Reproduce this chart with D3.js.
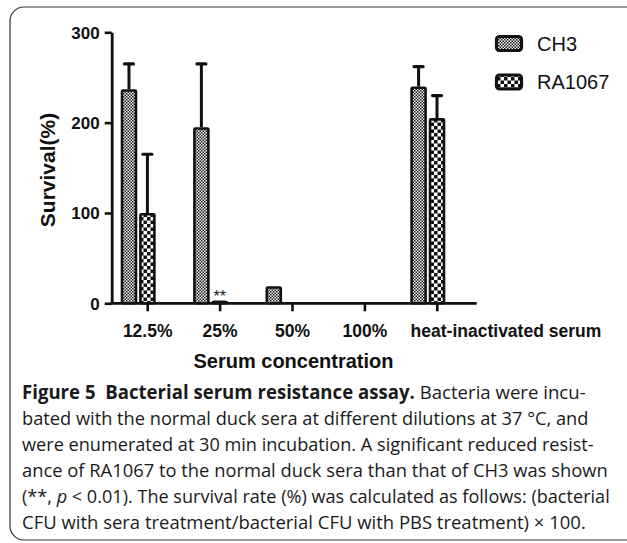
<!DOCTYPE html>
<html>
<head>
<meta charset="utf-8">
<script src="https://cdn.jsdelivr.net/npm/d3@7"></script>
<style>
  html, body { margin: 0; padding: 0; background: #fff; }
  svg { display: block; }
</style>
</head>
<body>
<div id="chart"></div>
<script>
// ---------- data ----------
const categories = ["12.5%", "25%", "50%", "100%", "heat-inactivated serum"];
const seriesNames = ["CH3", "RA1067"];
const ch3Values = [237, 195, 19, 0, 240];
const ch3Errors = [28, 70, 0, 0, 22];
const ra1067Values = [100, 2, 0, 0, 205];
const ra1067Errors = [65, 0, 0, 0, 25];
const yTicks = [0, 100, 200, 300];
const yDomain = [0, 300];
const significance = [{ category: "25%", series: "RA1067", label: "**" }];
const yLabel = "Survival(%)";
const xLabel = "Serum concentration";
const captionLines = [
  [["Figure 5  Bacterial serum resistance assay.", true], [" Bacteria were incu-", false]],
  [["bated with the normal duck sera at different dilutions at 37 \u00B0C, and", false]],
  [["were enumerated at 30 min incubation. A significant reduced resist-", false]],
  [["ance of RA1067 to the normal duck sera than that of CH3 was shown", false]],
  [["(**, ", false], ["p", false, true], [" < 0.01). The survival rate (%) was calculated as follows: (bacterial", false]],
  [["CFU with sera treatment/bacterial CFU with PBS treatment) \u00D7 100.", false]]
];
const captionLineEnds = [586, 589, 594, 608, 610, 586];

// ---------- build ----------
const W = 627, H = 543;
const svg = d3.select("#chart").append("svg").attr("width", W).attr("height", H);
svg.append("rect").attr("width", W).attr("height", H).attr("fill", "#fff");

const defs = svg.append("defs");
function checker(id, cell) {
  const p = defs.append("pattern").attr("id", id).attr("patternUnits", "userSpaceOnUse")
    .attr("width", cell * 2).attr("height", cell * 2);
  p.append("rect").attr("width", cell * 2).attr("height", cell * 2).attr("fill", "#fff");
  p.append("rect").attr("width", cell).attr("height", cell).attr("fill", "#111");
  p.append("rect").attr("x", cell).attr("y", cell).attr("width", cell).attr("height", cell).attr("fill", "#111");
}
checker("patCH3", 1.5);
checker("patRA", 3.5);
const fills = { CH3: "url(#patCH3)", RA1067: "url(#patRA)" };

// frame
svg.append("rect").attr("x", 10).attr("y", 7).attr("width", 720).attr("height", 533)
  .attr("rx", 14).attr("fill", "none").attr("stroke", "#333").attr("stroke-width", 1.2);

const x0 = d3.scaleBand().domain(categories).range([111.5, 473.5]);
const x1 = d3.scaleBand().domain(seriesNames).range([-27, 8]).paddingInner(0.1);
const y = d3.scaleLinear().domain(yDomain).range([303.3, 32.3]);
const cx = c => x0(c) + x0.bandwidth() / 2;
const font = "Liberation Sans, Arial, sans-serif";

const data = [];
categories.forEach((c, i) => {
  data.push({ c, s: "CH3", v: ch3Values[i], e: ch3Errors[i] });
  data.push({ c, s: "RA1067", v: ra1067Values[i], e: ra1067Errors[i] });
});

// y axis
const yAxis = svg.append("g").attr("transform", "translate(111.7,0)")
  .call(d3.axisLeft(y).tickValues(yTicks).tickSize(7).tickSizeOuter(0).tickPadding(5));
yAxis.select(".domain").attr("stroke", "#111").attr("stroke-width", 2.8);
yAxis.selectAll(".tick line").attr("stroke", "#111").attr("stroke-width", 2.6);
yAxis.selectAll(".tick text").attr("font-family", font)
  .attr("font-size", 17).attr("font-weight", "bold").attr("fill", "#111").attr("dy", "0.34em");

// x axis
const xAxis = svg.append("g").attr("transform", "translate(0,303.3)")
  .call(d3.axisBottom(x0).tickSize(8).tickSizeOuter(0).tickPadding(13));
xAxis.select(".domain").remove();
xAxis.append("line").attr("x1", 110.3).attr("x2", 476.7).attr("y1", 0).attr("y2", 0)
  .attr("stroke", "#111").attr("stroke-width", 2.8);
xAxis.selectAll(".tick line").attr("stroke", "#111").attr("stroke-width", 2.6);
xAxis.selectAll(".tick text").attr("font-family", font)
  .attr("font-size", 17.5).attr("font-weight", "bold").attr("fill", "#111")
  .attr("dy", "0.71em")
  .each(function (c) {
    const w = this.getComputedTextLength();
    if (w > x0.bandwidth()) {
      d3.select(this).attr("text-anchor", "start").attr("x", x1("CH3") + 0.3);
    }
  });

const g = svg.append("g");
const sw = 2.6;

// error bars
const errs = data.filter(d => d.e > 0);
g.selectAll("line.err").data(errs).join("line").attr("class", "err")
  .attr("x1", d => cx(d.c) + x1(d.s) + x1.bandwidth() / 2)
  .attr("x2", d => cx(d.c) + x1(d.s) + x1.bandwidth() / 2)
  .attr("y1", d => y(d.v)).attr("y2", d => y(d.v + d.e))
  .attr("stroke", "#111").attr("stroke-width", 3);
g.selectAll("line.cap").data(errs).join("line").attr("class", "cap")
  .attr("x1", d => cx(d.c) + x1(d.s) + x1.bandwidth() / 2 - 4.5)
  .attr("x2", d => cx(d.c) + x1(d.s) + x1.bandwidth() / 2 + 4.5)
  .attr("y1", d => y(d.v + d.e)).attr("y2", d => y(d.v + d.e))
  .attr("stroke", "#111").attr("stroke-width", 3.2).attr("stroke-linecap", "round");

// bars
g.selectAll("rect.bar").data(data.filter(d => d.v > 0)).join("rect").attr("class", "bar")
  .attr("x", d => cx(d.c) + x1(d.s) + sw / 2)
  .attr("width", x1.bandwidth() - sw)
  .attr("y", d => Math.min(y(d.v) + sw / 2, y(0) - 1.5))
  .attr("height", d => Math.max(1.5, y(0) - y(d.v) - sw / 2))
  .attr("rx", d => d.v < 5 ? 2 : 1)
  .attr("fill", d => fills[d.s]).attr("stroke", "#111").attr("stroke-width", sw);

// significance marks
significance.forEach(sg => {
  const d = data.find(q => q.c === sg.category && q.s === sg.series);
  g.append("text").attr("x", cx(d.c) + x1(d.s) + x1.bandwidth() / 2)
    .attr("y", y(d.v) + 1).attr("text-anchor", "middle")
    .attr("font-family", font).attr("font-size", 16)
    .attr("fill", "#222").text(sg.label);
});

// axis titles
svg.append("text").attr("transform", "translate(55,170) rotate(-90)")
  .attr("text-anchor", "middle").attr("font-family", font)
  .attr("font-size", 21).attr("font-weight", "bold").attr("fill", "#111").text(yLabel);
svg.append("text").attr("x", 293.5).attr("y", 368)
  .attr("text-anchor", "middle").attr("font-family", font)
  .attr("font-size", 20).attr("font-weight", "bold").attr("fill", "#111").text(xLabel);

// legend
const leg = svg.append("g");
seriesNames.forEach((s, i) => {
  const yy = 35 + i * 38.5;
  leg.append("rect").attr("x", 496.5).attr("y", yy + 1.5).attr("width", 25).attr("height", 14)
    .attr("rx", 3).attr("fill", fills[s]).attr("stroke", "#111").attr("stroke-width", 3.2);
  leg.append("text").attr("x", 537).attr("y", yy + 15.5)
    .attr("font-family", font).attr("font-size", 20)
    .attr("fill", "#111").text(s);
});

// caption
const cap = svg.append("g");
captionLines.forEach((parts, i) => {
  const t = cap.append("text").attr("x", 0).attr("y", 0)
    .attr("font-family", "Open Sans, Noto Sans, sans-serif").attr("font-size", 19)
    .attr("fill", "#1a1a1a").style("white-space", "pre");
  parts.forEach(p => {
    t.append("tspan").attr("font-weight", p[1] ? "bold" : "normal")
      .attr("font-style", p[2] ? "italic" : "normal").text(p[0]);
  });
  const w = t.node().getComputedTextLength();
  const target = captionLineEnds[i] - 22;
  t.attr("transform", `translate(22,${399 + i * 26}) scale(${target / w},1)`);
});
</script>
</body>
</html>
